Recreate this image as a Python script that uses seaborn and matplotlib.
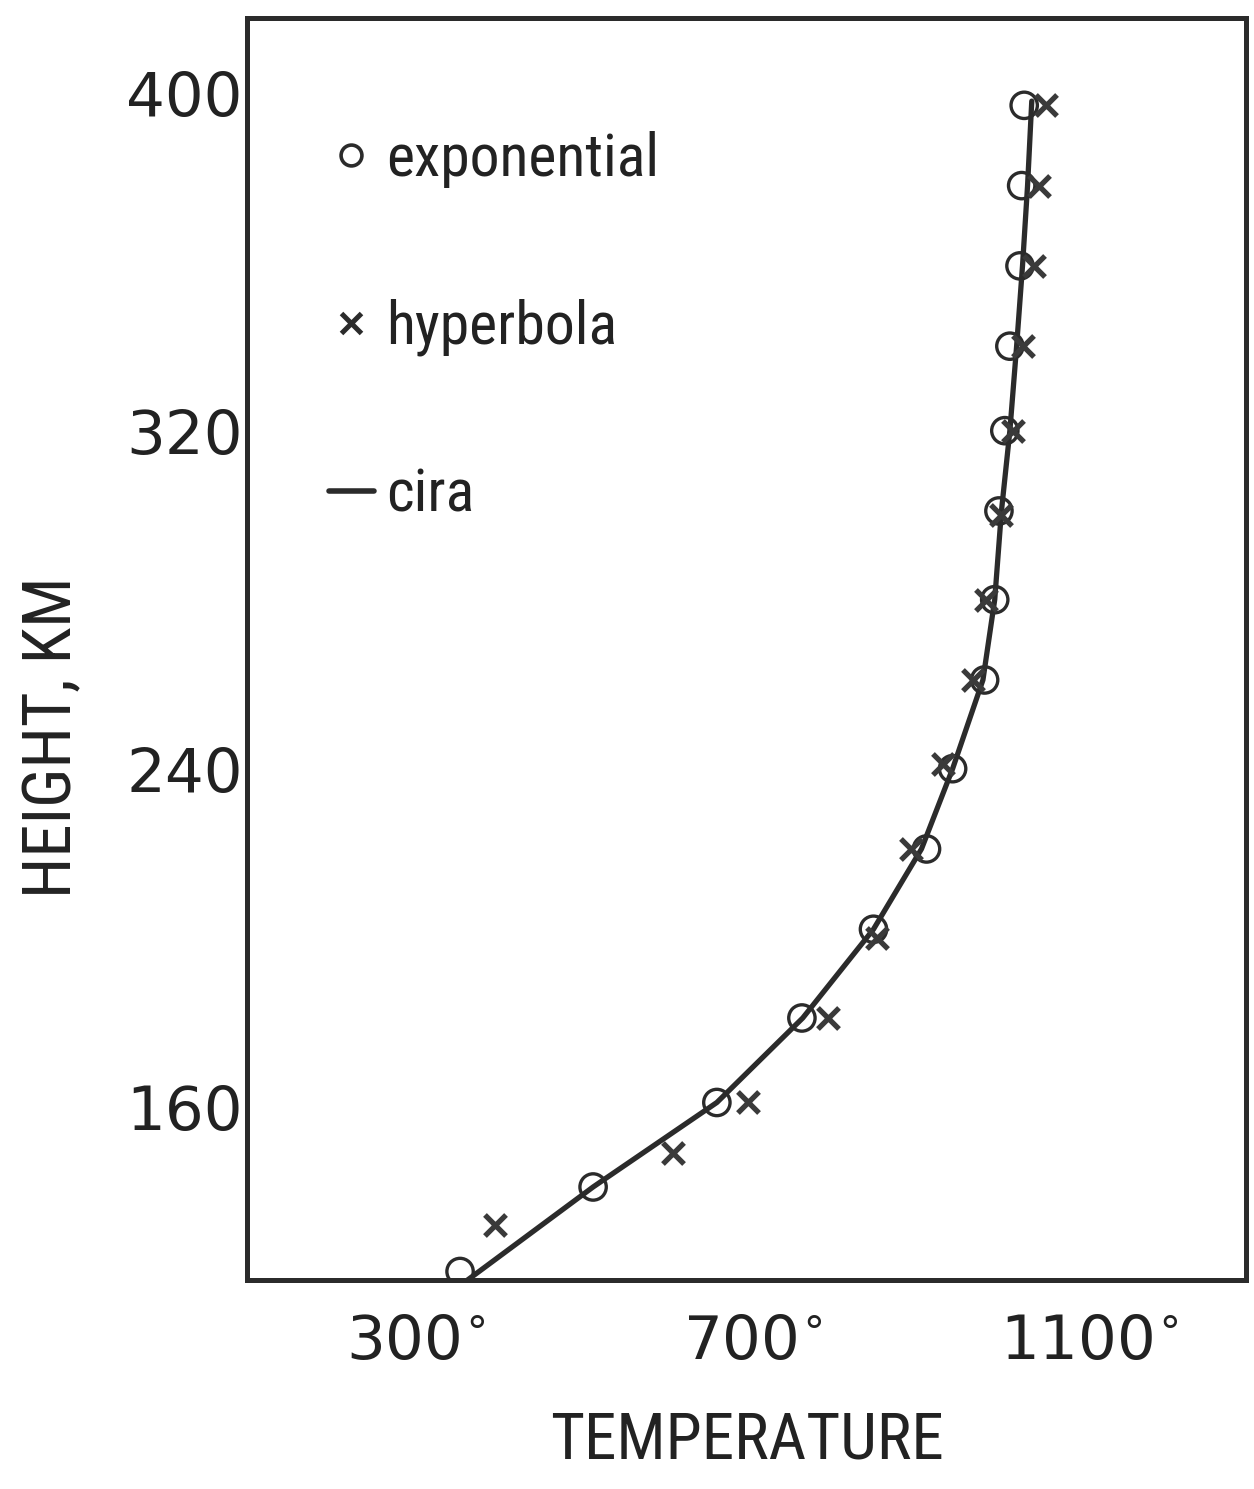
import matplotlib
matplotlib.use("Agg")
import matplotlib.pyplot as plt
from matplotlib.lines import Line2D
from matplotlib import font_manager as fm
import seaborn as sns
import pandas as pd

# Thermospheric temperature profile: height (km) vs temperature (deg)
exponential_height_km = [121, 141, 161, 181, 202, 221, 240, 261, 280, 301, 320, 340, 359, 378, 397]
exponential_T = [353, 511, 658, 759, 844, 907, 938, 976, 988, 993, 1000, 1006, 1018, 1020, 1023]

cira_height_km = [119, 141, 161, 181, 202, 221, 240, 261, 280, 301, 320, 340, 359, 378, 398]
cira_T = [362, 511, 658, 760, 844, 901, 938, 974, 988, 996, 1006, 1014, 1021, 1027, 1032]

hyperbola_height_km = [132, 149, 161, 181, 200, 221, 241, 261, 280, 300, 320, 340, 359, 378, 397]
hyperbola_T = [394, 606, 695, 790, 848, 889, 926, 962, 978, 995, 1010, 1021, 1035, 1041, 1049]

x_ticks = [300, 500, 700, 900, 1100]
x_tick_labels = ["300$^{\\circ}$", "", "700$^{\\circ}$", "", "1100$^{\\circ}$"]
y_ticks = [160, 200, 240, 280, 320, 360, 400]
y_tick_labels = ["160", "", "240", "", "320", "", "400"]

sns.set_theme(style="white")
plt.rcParams["font.family"] = ["DejaVu Sans"]


def narrow_font():
    """Return the path of a condensed sans-serif face if one is installed."""
    wanted = ["Liberation Sans Narrow", "Roboto Condensed", "Open Sans Condensed",
              "Noto Sans Condensed", "DejaVu Sans Condensed"]
    entries = fm.fontManager.ttflist
    for name in wanted:
        for f in entries:
            if f.name == name and f.style == "normal" and f.weight in (400, "normal", "regular"):
                return f.fname
    for f in entries:
        low = f.fname.lower()
        if ("condensed" in low or "narrow" in low) and "bold" not in low and "oblique" not in low \
                and "italic" not in low and "sans" in low:
            return f.fname
    for f in entries:
        if str(f.stretch) in ("condensed", "semi-condensed") and f.style == "normal":
            return f.fname
    return None


narrow_path = narrow_font()


def label_font(size):
    if narrow_path:
        return fm.FontProperties(fname=narrow_path, size=size)
    return fm.FontProperties(family="DejaVu Sans", size=size * 0.78)


ink = "#2b2b2b"

fig = plt.figure(figsize=(12.54, 14.89), dpi=100)
ax = fig.add_axes([0.197, 0.1404, 0.797, 0.8476])

cira = pd.DataFrame({"T": cira_T, "h": cira_height_km})
expo = pd.DataFrame({"T": exponential_T, "h": exponential_height_km})
hyp = pd.DataFrame({"T": hyperbola_T, "h": hyperbola_height_km})

sns.lineplot(data=cira, x="T", y="h", sort=False, color=ink, linewidth=3.8, ax=ax, zorder=2)
sns.scatterplot(data=expo, x="T", y="h", marker="o", s=360, facecolor="none",
                edgecolor=ink, linewidth=2.4, ax=ax, zorder=3)
sns.scatterplot(data=hyp, x="T", y="h", marker="x", s=230, color="#3a3a3a",
                linewidth=3.8, ax=ax, zorder=4)

ax.set_xlim(100, 1287)
ax.set_ylim(119, 417.7)

ax.set_xticks(x_ticks)
ax.set_xticklabels(x_tick_labels)
ax.set_yticks(y_ticks)
ax.set_yticklabels(y_tick_labels)

ax.tick_params(axis="x", direction="in", length=25, width=3, color=ink,
               labelsize=44, pad=24, labelcolor="#222222")
ax.tick_params(axis="y", direction="in", length=14, width=3, color=ink,
               labelsize=44, pad=3, labelcolor="#222222")

for side in ["left", "right", "top", "bottom"]:
    ax.spines[side].set_visible(True)
    ax.spines[side].set_color(ink)
    ax.spines[side].set_linewidth(3.6)

ax.set_xlabel("TEMPERATURE", fontproperties=label_font(47), color="#222222", labelpad=27)
ax.set_ylabel("HEIGHT, KM", fontproperties=label_font(48), color="#222222")
ax.yaxis.set_label_coords(-0.162, 0.43)

handles = [
    Line2D([], [], linestyle="none", marker="o", markersize=15, markerfacecolor="none",
           markeredgecolor=ink, markeredgewidth=2.6),
    Line2D([], [], linestyle="none", marker="x", markersize=15, color=ink, markeredgewidth=3.6),
    Line2D([], [], color=ink, linewidth=4),
]
leg = ax.legend(handles, ["exponential", "hyperbola", "cira"], loc="upper left",
                bbox_to_anchor=(0.058, 0.929), frameon=False, handlelength=0.75,
                handletextpad=0.2, labelspacing=1.85, borderaxespad=0,
                prop=label_font(43))
for t in leg.get_texts():
    t.set_color("#222222")

fig.savefig("out.png", dpi=100, facecolor="white")
